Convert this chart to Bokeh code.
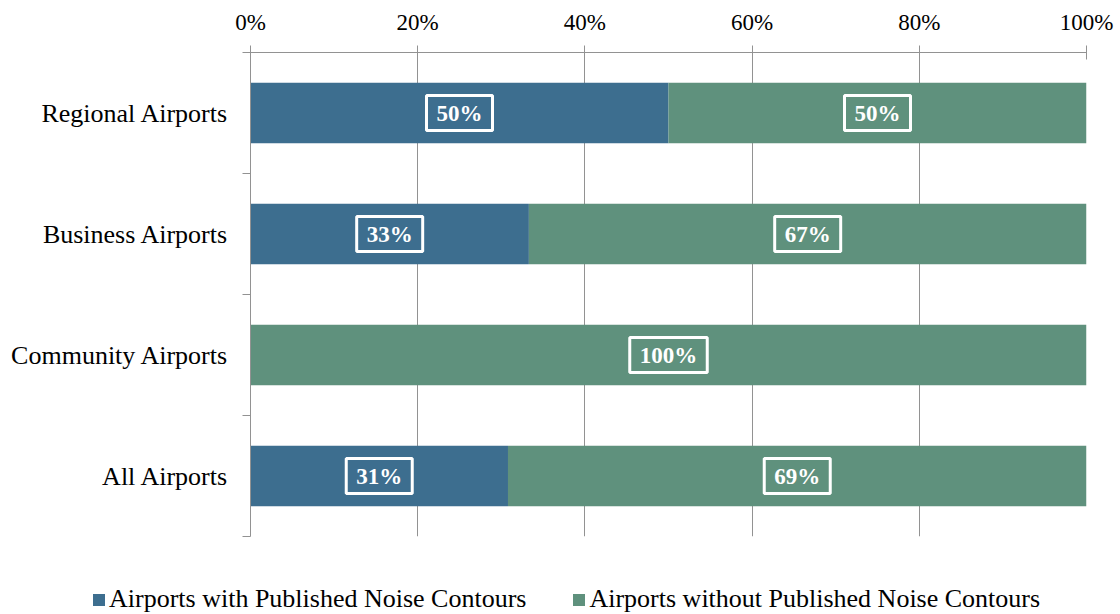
from bokeh.plotting import figure
from bokeh.layouts import column
from bokeh.models import (Range1d, LinearAxis, FixedTicker, ColumnDataSource,
                          Label, Legend, LegendItem)
from bokeh.embed import file_html
from bokeh.resources import INLINE

categories = ["Regional Airports", "Business Airports", "Community Airports", "All Airports"]
with_contours = [50, 33.3, 0, 30.8]
without_contours = [50, 66.7, 100, 69.2]
with_labels = ["50%", "33%", "", "31%"]
without_labels = ["50%", "67%", "100%", "69%"]
x_ticks = [0, 20, 40, 60, 80, 100]
series_names = ["Airports with Published Noise Contours",
                "Airports without Published Noise Contours"]
colors = ["#3D6E8F", "#5F917D"]

FONT = "Liberation Serif"
GRAY = "#929292"

n = len(categories)
ys = [n - i - 0.5 for i in range(n)]

src1 = ColumnDataSource(dict(y=ys, left=[0] * n, right=with_contours))
src2 = ColumnDataSource(dict(y=ys, left=with_contours,
                             right=[a + b for a, b in zip(with_contours, without_contours)]))

p = figure(width=1120, height=576, output_backend="svg", toolbar_location=None,
           x_range=Range1d(0, 100), y_range=Range1d(0, n),
           x_axis_location="above", y_axis_location=None,
           min_border_left=250, min_border_right=34, min_border_top=52,
           min_border_bottom=40)
p.outline_line_color = None
p.frame_align = False

r1 = p.hbar(y="y", left="left", right="right", height=0.5, source=src1,
            fill_color=colors[0], line_color=None)
r2 = p.hbar(y="y", left="left", right="right", height=0.5, source=src2,
            fill_color=colors[1], line_color=None)

# x axis (top)
xa = p.xaxis[0]
xa.ticker = FixedTicker(ticks=x_ticks)
xa.major_label_overrides = {t: f"{t}%" for t in x_ticks}
xa.major_label_text_font = FONT
xa.major_label_text_font_size = "23px"
xa.major_label_text_color = "#000000"
xa.axis_line_color = GRAY
xa.major_tick_line_color = GRAY
xa.major_tick_in = 7
xa.major_tick_out = 7
xa.minor_tick_line_color = None
xa.major_label_standoff = 11

p.xgrid.ticker = FixedTicker(ticks=x_ticks)
p.xgrid.grid_line_color = GRAY
p.ygrid.grid_line_color = None

# y axis: boundary ticks
ya1 = LinearAxis(ticker=FixedTicker(ticks=list(range(n + 1))),
                 major_label_overrides={i: "" for i in range(n + 1)},
                 axis_line_color=GRAY, major_tick_line_color=GRAY,
                 major_tick_in=0, major_tick_out=8, minor_tick_line_color=None,
                 major_label_text_font_size="1px", major_label_standoff=0)
p.add_layout(ya1, "left")
# y axis: category labels
ya2 = LinearAxis(ticker=FixedTicker(ticks=ys),
                 major_label_overrides={y: c for y, c in zip(ys, categories)},
                 axis_line_color=None, major_tick_line_color=None,
                 minor_tick_line_color=None,
                 major_label_text_font=FONT, major_label_text_font_size="26px",
                 major_label_text_color="#000000", major_label_standoff=8)
p.add_layout(ya2, "left")

# value labels
for i in range(n):
    segs = [(with_contours[i] / 2, with_labels[i]),
            (with_contours[i] + without_contours[i] / 2, without_labels[i])]
    for x, t in segs:
        if not t:
            continue
        p.add_layout(Label(x=x, y=ys[i], text=t, text_align="center",
                           text_baseline="middle", text_color="white",
                           text_font=FONT, text_font_style="bold",
                           text_font_size="23px", border_line_color="white",
                           border_line_width=3,
                           padding=dict(left=10, right=10, top=5, bottom=5)))

# legend strip (its renderers share the data but lie outside its view)
lg = figure(width=1120, height=38, output_backend="svg", toolbar_location=None,
            x_range=Range1d(-2, -1), y_range=Range1d(0, 1),
            x_axis_location=None, y_axis_location=None,
            min_border=0)
lg.frame_align = False
lg.outline_line_color = None
lg.xgrid.visible = False
lg.ygrid.visible = False
e1 = lg.hbar(y="y", left="left", right="right", height=0.5, source=src1,
             fill_color=colors[0], line_color=None)
e2 = lg.hbar(y="y", left="left", right="right", height=0.5, source=src2,
             fill_color=colors[1], line_color=None)
legend = Legend(items=[LegendItem(label=series_names[0], renderers=[e1]),
                       LegendItem(label=series_names[1], renderers=[e2])],
                orientation="horizontal", location=(91, 0),
                border_line_color=None, background_fill_alpha=0,
                label_text_font=FONT, label_text_font_size="26px",
                label_text_color="#000000",
                glyph_width=15, glyph_height=15, label_standoff=3,
                spacing=45, padding=0, margin=0)
lg.add_layout(legend)

layout = column(p, lg, spacing=0)
open("out.html", "w").write(file_html(layout, INLINE))
